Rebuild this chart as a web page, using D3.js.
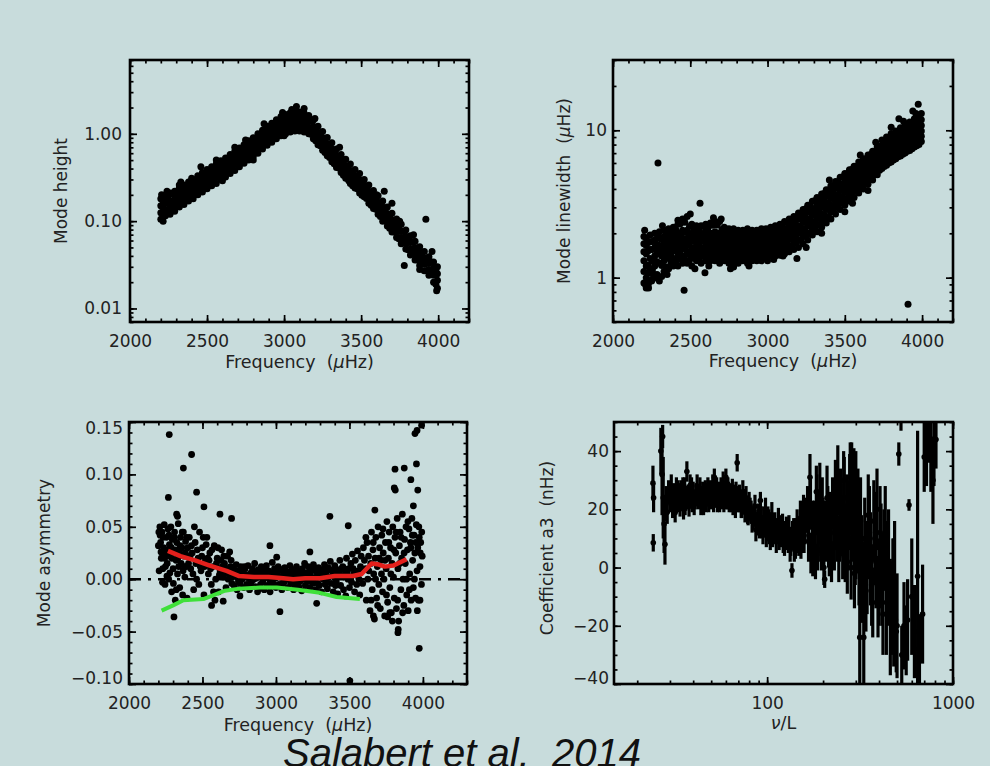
<!DOCTYPE html>
<html><head><meta charset="utf-8">
<script src="https://cdn.jsdelivr.net/npm/d3@7"></script>
<style>
html,body{margin:0;padding:0;background:#c8dcdc;}
svg{display:block;}
</style></head><body>
<svg id="c" width="990" height="766"></svg>
<script>
// ---------- DATA ----------
const freqTicks = [2000, 2500, 3000, 3500, 4000];
const heightTicks = [0.01, 0.1, 1];
const heightTickLabels = ["0.01", "0.10", "1.00"];
const widthTicks = [1, 10];
const widthTickLabels = ["1", "10"];
const asymTicks = [-0.10, -0.05, 0, 0.05, 0.10, 0.15];
const asymTickLabels = ["\u22120.10", "\u22120.05", "0.00", "0.05", "0.10", "0.15"];
const a3Ticks = [-40, -20, 0, 20, 40];
const a3TickLabels = ["\u221240", "\u221220", "0", "20", "40"];
const nuLTicks = [100, 1000];
const nuLTickLabels = ["100", "1000"];

// Mode height: [frequency, values...]
const heightCols = [
 [2200,.105,.125,.15,.18],[2230,.115,.135,.16,.19],[2260,.12,.145,.17,.21],[2290,.13,.16,.19,.22],
 [2320,.145,.17,.2,.24],[2350,.155,.185,.22,.26],[2380,.17,.2,.235,.28],[2410,.18,.215,.255,.3],
 [2440,.2,.235,.275,.33],[2470,.215,.255,.3,.36],[2500,.235,.28,.33,.39],[2530,.255,.3,.355,.42],
 [2560,.27,.325,.385,.45],[2590,.3,.35,.415,.49],[2620,.32,.38,.45,.53],[2650,.35,.41,.49,.58],
 [2680,.38,.45,.53,.63],[2710,.42,.49,.58,.69],[2740,.46,.54,.64,.75],[2770,.5,.59,.7,.83],
 [2800,.55,.65,.77,.9],[2830,.6,.72,.85,1.0],[2860,.67,.79,.93,1.1],[2890,.74,.87,1.03,1.22],
 [2920,.8,.94,1.12,1.32],[2950,.88,1.03,1.22,1.45],[2980,.95,1.12,1.32,1.58],[3010,1.0,1.18,1.4,1.66],
 [3040,1.05,1.23,1.46,1.74],[3070,1.08,1.27,1.5,1.8],[3100,1.08,1.27,1.5,1.78],[3130,1.05,1.24,1.46,1.72],
 [3160,1.0,1.16,1.38,1.62],[3190,.88,1.03,1.22,1.44],[3220,.75,.88,1.04,1.22],[3250,.65,.76,.9,1.06],
 [3280,.56,.65,.77,.91],[3310,.48,.56,.67,.79],[3340,.41,.48,.57,.67],[3370,.36,.42,.5,.58],
 [3400,.31,.37,.43,.51],[3430,.27,.32,.38,.45],[3460,.24,.28,.33,.39],[3490,.21,.25,.3,.35],
 [3520,.19,.22,.26,.3],[3550,.16,.19,.22,.26],[3580,.14,.16,.19,.225],[3610,.12,.14,.165,.195],
 [3640,.1,.12,.145,.17],[3670,.088,.103,.122,.145],[3700,.075,.088,.104,.123],[3730,.065,.076,.09,.106],
 [3760,.055,.065,.077,.092],[3790,.048,.056,.067,.079],[3820,.041,.048,.057,.068],[3850,.036,.042,.05,.059],
 [3880,.031,.037,.043,.051],[3910,.027,.032,.038,.045],[3940,.024,.028,.033,.039],[3970,.02,.024,.029,.034],
 [3995,.017,.021,.025,.03],
 [2215,.118,.142,.17],[2245,.128,.16,.182],[2275,.142,.168,.205],[2305,.15,.183,.22],[2335,.168,.192,.235],
 [2365,.178,.215,.248],[2395,.195,.222,.275],[2425,.205,.25,.292],[2455,.23,.265,.32],[2485,.24,.295,.34],
 [2515,.27,.305,.375],[2545,.285,.345,.395],[2575,.315,.36,.44],[2605,.335,.405,.465],[2635,.365,.43,.515],
 [2665,.395,.475,.555],[2695,.445,.515,.62],[2725,.475,.575,.66],[2755,.53,.615,.74],[2785,.565,.685,.79],
 [2815,.635,.745,.89],[2845,.685,.835,.96],[2875,.77,.895,1.07],[2905,.83,1.0,1.16],[2935,.91,1.06,1.28],
 [2965,.97,1.17,1.35],[2995,1.05,1.22,1.48],[3025,1.09,1.31,1.52],[3055,1.15,1.33,1.6],[3085,1.13,1.37,1.58],
 [3115,1.14,1.32,1.6],[3145,1.07,1.28,1.48],[3175,.99,1.15,1.39],[3205,.83,.99,1.14],[3235,.73,.83,.99],
 [3265,.61,.73,.83],[3295,.535,.61,.73],[3325,.455,.535,.615],[3355,.405,.455,.545],[3385,.335,.405,.465],
 [3415,.305,.345,.415],[3445,.255,.315,.355],[3475,.235,.265,.325],[3505,.198,.243,.275],[3535,.182,.205,.25],
 [3565,.152,.183,.205],[3595,.137,.152,.184],[3625,.113,.138,.155],[3655,.102,.113,.138],[3685,.083,.102,.113],
 [3715,.075,.084,.102],[3745,.063,.076,.084],[3775,.057,.063,.076],[3805,.047,.057,.064],[3835,.043,.048,.058],
 [3865,.036,.043,.048],[3895,.033,.036,.044],[3925,.027,.033,.037],[3955,.025,.027,.034],[3985,.019,.025,.027]
];
const heightOutliers = [[3080,2.05],[3130,1.95],[3920,0.105],[3780,0.031],[3650,0.22],[3700,0.16],
 [2460,0.42],[2330,0.28],[3990,0.016],[2215,0.1],[3050,1.9],[2205,.2],[2240,.22],[2320,.26],[2400,.31],
 [2560,.5],[2680,.7],[2750,.85],[2870,1.3],[2990,1.75],[3000,0.95],[3200,1.5],[3360,.7],[3420,.29],
 [3600,.2],[3750,.1],[3840,.07],[3880,.028],[3960,.045],[2600,.29],[2800,.5]];

// Mode linewidth: [frequency, values...]
const widthCols = [
 [2200,.92,1.1,1.3,1.5,1.7,1.9],[2215,.85,1.0,1.2,1.45,1.65,1.85],[2240,.95,1.15,1.35,1.55,1.75,1.95],
 [2270,1.0,1.2,1.4,1.6,1.8,2.0],[2300,.95,1.25,1.45,1.65,1.85,2.05],[2330,1.1,1.3,1.5,1.7,1.9,2.1],
 [2360,1.15,1.35,1.55,1.75,1.95,2.15],[2390,1.2,1.35,1.55,1.75,1.95,2.2],[2420,1.2,1.4,1.6,1.8,2.0,2.3],
 [2450,1.25,1.4,1.6,1.85,2.1,2.5],[2480,1.25,1.45,1.65,1.85,2.1,2.6],[2510,1.2,1.4,1.6,1.8,2.0,2.3],
 [2540,1.3,1.45,1.65,1.85,2.05,2.25],[2570,1.25,1.45,1.6,1.8,2.0,2.25],[2600,1.3,1.45,1.65,1.85,2.05,2.3],
 [2630,1.3,1.45,1.6,1.8,2.0,2.35],[2660,1.3,1.45,1.6,1.8,2.05,2.4],[2690,1.25,1.45,1.6,1.8,2.0,2.4],
 [2720,1.3,1.45,1.6,1.75,1.95,2.2],[2750,1.25,1.4,1.55,1.75,1.95,2.15],[2780,1.2,1.4,1.55,1.75,1.95,2.15],
 [2810,1.25,1.4,1.55,1.7,1.9,2.1],[2840,1.3,1.42,1.55,1.7,1.9,2.1],[2870,1.25,1.4,1.55,1.7,1.9,2.15],
 [2900,1.3,1.42,1.55,1.72,1.9,2.1],[2930,1.3,1.45,1.6,1.75,1.92,2.1],[2960,1.35,1.45,1.6,1.75,1.95,2.15],
 [2990,1.35,1.48,1.62,1.78,1.95,2.15],[3020,1.4,1.5,1.65,1.8,2.0,2.2],[3050,1.4,1.52,1.68,1.85,2.05,2.25],
 [3080,1.42,1.55,1.72,1.9,2.1,2.3],[3110,1.45,1.6,1.78,1.95,2.15,2.4],[3140,1.5,1.65,1.85,2.05,2.25,2.5],
 [3170,1.55,1.72,1.92,2.15,2.35,2.6],[3200,1.6,1.8,2.0,2.25,2.5,2.75],[3230,1.7,1.9,2.15,2.4,2.65,2.9],
 [3260,1.8,2.0,2.25,2.5,2.8,3.1],[3290,1.95,2.15,2.4,2.65,2.95,3.3],[3320,2.05,2.3,2.55,2.85,3.15,3.5],
 [3350,2.2,2.45,2.7,3.0,3.35,3.7],[3380,2.35,2.6,2.9,3.2,3.55,3.95],[3410,2.5,2.8,3.1,3.45,3.8,4.2],
 [3440,2.7,3.0,3.3,3.65,4.05,4.5],[3470,2.9,3.2,3.55,3.9,4.3,4.8],[3500,3.1,3.4,3.8,4.2,4.6,5.1],
 [3530,3.3,3.65,4.05,4.45,4.9,5.4],[3560,3.5,3.9,4.3,4.75,5.2,5.7],[3590,3.75,4.15,4.6,5.05,5.5,6.1],
 [3620,4.0,4.4,4.9,5.35,5.85,6.4],[3650,4.3,4.7,5.2,5.7,6.2,6.8],[3680,4.6,5.0,5.5,6.0,6.6,7.2],
 [3710,5.0,5.45,5.95,6.5,7.1,7.8],[3740,5.5,6.0,6.6,7.2,7.9,8.6],[3770,5.8,6.4,7.0,7.6,8.3,9.0],
 [3800,6.1,6.7,7.3,8.0,8.7,9.5],[3830,6.4,7.0,7.6,8.3,9.1,9.9],[3860,6.7,7.3,8.0,8.7,9.5,10.4],
 [3890,7.0,7.6,8.3,9.1,9.9,10.9],[3920,7.3,8.0,8.7,9.5,10.4,11.4],[3950,7.7,8.4,9.1,10,10.9,12],
 [3980,8.0,8.7,9.5,10.4,11.4,12.5],[3995,8.4,9.1,9.9,10.8,11.8,13],
 [2228,.9,1.07,1.22,1.52,1.73],[2255,.98,1.13,1.3,1.55,1.76],[2285,1.05,1.28,1.52,1.68,1.97],
 [2315,1.02,1.21,1.4,1.58,1.82],[2345,1.18,1.43,1.6,1.84,2.03],[2375,1.26,1.44,1.67,1.83,2.12],
 [2405,1.28,1.52,1.68,1.92,2.13],[2435,1.34,1.5,1.74,1.93,2.32],[2465,1.33,1.57,1.73,2.03,2.38],
 [2495,1.31,1.5,1.74,1.93,2.22],[2525,1.36,1.53,1.77,1.94,2.17],[2555,1.33,1.54,1.7,1.93,2.13],
 [2585,1.39,1.53,1.77,1.93,2.22],[2615,1.34,1.57,1.71,1.94,2.18],[2645,1.39,1.5,1.72,1.9,2.27],
 [2675,1.34,1.54,1.68,1.92,2.28],[2705,1.36,1.5,1.7,1.84,2.12],[2735,1.31,1.49,1.63,1.87,2.03],
 [2765,1.32,1.46,1.67,1.83,2.07],[2795,1.31,1.48,1.6,1.82,1.98],[2825,1.36,1.47,1.64,1.78,2.02],
 [2855,1.31,1.48,1.6,1.82,2.0],[2885,1.36,1.47,1.65,1.78,2.02],[2915,1.36,1.53,1.65,1.85,1.98],
 [2945,1.41,1.52,1.7,1.83,2.07],[2975,1.41,1.56,1.68,1.89,2.03],[3005,1.46,1.56,1.74,1.88,2.12],
 [3035,1.45,1.61,1.74,1.97,2.13],[3065,1.49,1.61,1.82,1.96,2.2],[3095,1.51,1.69,1.83,2.05,2.23],
 [3125,1.58,1.7,1.94,2.1,2.37],[3155,1.61,1.82,1.98,2.22,2.4],[3185,1.71,1.86,2.1,2.28,2.57],
 [3215,1.79,2.02,2.2,2.5,2.73],[3245,1.91,2.08,2.37,2.6,2.92],[3275,1.99,2.24,2.46,2.8,3.08],
 [3305,2.16,2.36,2.67,2.93,3.32],[3335,2.27,2.54,2.78,3.14,3.46],[3365,2.43,2.66,3.0,3.3,3.72],
 [3395,2.59,2.9,3.18,3.57,3.93],[3425,2.81,3.08,3.44,3.78,4.22],[3455,2.99,3.32,3.63,4.07,4.48],
 [3485,3.21,3.5,3.92,4.28,4.82],[3515,3.39,3.77,4.13,4.62,5.08],[3545,3.63,3.98,4.44,4.88,5.42],
 [3575,3.84,4.27,4.68,5.22,5.68],[3605,4.11,4.5,5.02,5.48,6.07],[3635,4.37,4.84,5.28,5.87,6.38],
 [3665,4.69,5.1,5.67,6.18,6.82],[3695,4.99,5.5,5.98,6.62,7.23],[3725,5.36,5.83,6.42,6.98,7.72],
 [3755,5.69,6.22,6.78,7.42,8.08],[3785,6.01,6.53,7.17,7.78,8.52],[3815,6.29,6.87,7.48,8.22,8.88],
 [3845,6.61,7.18,7.87,8.53,9.32],[3875,6.89,7.52,8.18,8.92,9.78],[3905,7.21,7.83,8.57,9.28,10.2],
 [3935,7.49,8.22,8.88,9.72,10.6],[3965,7.86,8.53,9.32,10.2,11.2]
];
const widthOutliers = [[2291,6.0],[2563,3.2],[2460,0.82],[3909,0.66],[2595,1.08],[2230,0.85],[2250,0.95],
 [2275,1.0],[2620,1.2],[2780,1.18],[2960,1.3],[3040,1.33],[3190,1.35],[3960,13],[3975,15],[3850,12],[2210,0.9],
 [2205,2.1],[2235,0.95],[2265,1.05],[2320,2.25],[2350,1.05],[2420,2.45],[2500,2.7],[2650,2.55],[2700,2.5],
 [2530,1.15],[2760,1.15],[2880,1.2],[3000,1.3],[3100,1.4],[3250,1.6],[3350,2.0],[3400,4.6],[3500,2.8],
 [3600,6.8],[3700,8.3],[3800,10.5],[3880,11.5],[3940,13.5],[3550,3.2],[3650,3.9]];

// Mode asymmetry: [frequency, asymmetry]
const asymPoints = [
 [2200,0.032],[2205,0.008],[2210,0.05],[2212,0.042],[2215,0.035],[2220,0.02],[2225,0.045],[2228,-0.003],[2230,0.01],
 [2235,0.03],[2240,0.052],[2245,-0.005],[2248,0.012],[2250,0.025],[2255,0.04],[2260,0.015],[2262,0.028],[2265,0.048],
 [2270,0.0],[2275,0.033],[2278,0.006],[2280,0.022],[2285,0.05],[2290,-0.012],[2292,0.02],[2295,0.038],[2300,0.01],
 [2305,0.027],[2308,0.04],[2310,0.045],[2315,-0.02],[2320,0.018],[2322,-0.01],[2325,0.035],[2330,0.005],[2335,0.053],
 [2338,0.012],[2340,0.028],[2345,-0.008],[2350,0.04],[2352,0.024],[2355,0.015],[2360,0.03],[2365,-0.015],[2368,0.008],
 [2370,0.045],[2375,0.022],[2380,0.002],[2384,0.025],[2385,0.036],[2390,0.012],[2395,-0.018],[2400,0.03],
 [2410,0.04],[2415,0.022],[2420,0.01],[2430,0.025],[2435,0.005],[2440,-0.01],[2445,0.05],[2450,0.035],[2455,0.015],
 [2460,0.0],[2470,0.02],[2475,-0.005],[2480,0.045],[2490,0.008],[2495,0.022],[2500,0.03],[2510,-0.015],[2515,0.012],
 [2520,0.018],[2525,0.033],[2530,0.04],[2535,0.02],[2540,0.005],[2550,0.025],[2555,0.01],[2560,-0.005],[2570,0.012],
 [2575,-0.012],[2580,0.032],[2585,-0.02],[2590,0.0],[2595,0.015],[2600,0.02],[2605,0.03],[2610,-0.012],[2615,0.004],
 [2620,0.008],[2630,0.028],[2635,0.012],[2640,0.002],[2650,0.015],[2655,0.006],[2660,-0.008],[2670,0.022],[2675,0.0],
 [2680,0.005],[2690,0.012],[2695,0.018],[2700,-0.004],
 [2710,0.01],[2715,-0.006],[2720,0.004],[2730,0.014],[2735,-0.01],[2740,0.002],[2750,0.008],[2755,-0.004],[2760,0.012],
 [2770,0.0],[2775,0.006],[2780,-0.008],[2790,0.01],[2795,0.003],[2800,-0.005],[2810,0.013],[2815,0.001],[2820,-0.01],
 [2830,0.006],[2835,-0.002],[2840,0.01],[2850,0.0],[2855,0.015],[2860,-0.007],[2870,0.005],[2875,-0.012],[2880,0.009],
 [2890,0.002],[2895,-0.005],[2900,0.012],[2910,-0.002],[2915,0.007],[2920,-0.01],[2930,0.004],[2935,0.013],[2940,-0.006],
 [2950,0.008],[2955,0.0],[2960,-0.012],[2970,0.006],[2975,0.016],[2980,-0.004],[2990,0.01],[2995,0.001],[3000,-0.008],
 [3010,0.005],[3015,0.012],[3020,-0.005],[3030,0.002],[3035,0.009],[3040,-0.01],[3050,0.004],[3055,-0.003],[3060,0.011],
 [3070,0.0],[3075,0.007],[3080,-0.008],[3090,0.005],[3095,0.013],[3100,-0.004],[3110,0.002],[3115,0.009],[3120,-0.01],
 [3130,0.006],[3135,-0.002],[3140,0.012],[3150,0.001],[3155,-0.007],[3160,0.008],[3170,0.003],[3175,-0.011],[3180,0.01],
 [3190,0.0],[3195,0.015],[3200,-0.006],[3210,0.006],[3215,-0.002],[3220,0.012],[3230,-0.008],[3235,0.004],[3240,0.009],
 [3250,-0.004],[3255,0.014],[3260,0.001],[3270,-0.01],[3275,0.007],[3280,0.003],[3290,0.011],[3295,-0.006],[3300,0.005],
 [3310,-0.012],[3315,0.009],[3320,0.0],[3330,0.014],[3335,-0.005],[3340,0.006],[3350,-0.009],[3355,0.011],[3360,0.002],
 [3370,0.017],[3375,-0.004],[3380,0.008],[3390,-0.012],[3395,0.004],[3400,0.013],[3410,-0.002],[3415,0.009],[3420,-0.014],
 [3430,0.006],[3435,0.018],[3440,-0.006],[3450,0.003],[3455,0.012],[3460,-0.01],[3470,0.008],[3475,-0.016],[3480,0.02],
 [3490,0.0],[3495,0.01],[3500,-0.008],[3510,0.015],[3515,-0.003],[3520,0.024],[3530,0.005],[3535,-0.012],[3540,0.018],
 [3550,-0.005],[3555,0.027],[3560,0.008],[3570,-0.015],[3575,0.012],[3580,0.022],[3590,-0.004],[3595,0.03],
 [3610,0.01],[3615,-0.02],[3620,0.035],[3625,0.0],[3630,0.022],[3640,-0.03],[3645,0.015],[3650,0.045],[3655,-0.01],
 [3660,0.028],[3665,0.005],[3670,-0.038],[3675,0.02],[3680,0.04],[3685,-0.018],[3690,0.012],[3695,0.05],[3700,-0.005],
 [3705,0.03],[3710,-0.028],[3715,0.018],[3720,0.042],[3725,-0.012],[3730,0.025],[3735,0.0],[3740,-0.035],[3745,0.035],
 [3750,0.01],[3755,0.055],[3760,-0.022],[3765,0.02],[3770,0.045],[3775,-0.008],[3780,0.03],[3785,-0.032],[3790,0.015],
 [3795,0.05],[3800,0.002],[3805,-0.018],[3810,0.04],[3815,0.025],[3820,-0.028],[3825,0.058],[3830,0.01],[3835,-0.04],
 [3840,0.032],[3845,0.045],[3850,-0.01],[3855,0.02],[3860,0.062],[3865,0.0],[3870,-0.025],[3875,0.038],[3880,0.015],
 [3885,0.05],[3890,-0.015],[3895,0.028],[3900,-0.03],[3905,0.048],[3910,0.005],[3915,0.035],[3920,-0.02],[3925,0.058],
 [3930,0.018],[3935,-0.008],[3940,0.042],[3945,0.025],[3950,-0.018],[3955,0.052],[3960,0.008],[3965,0.03],[3970,-0.02],
 [3975,0.04],[3980,0.012],[3985,0.035],[3990,-0.005],[3995,0.022],
 [2274,0.138],[2426,0.119],[2370,0.106],[2268,0.078],[2460,0.083],[2510,0.069],[2619,0.062],[2698,0.058],[2324,0.062],
 [2330,0.06],[3367,0.06],[3492,0.051],[3673,0.066],[3805,0.087],[3812,0.085],[3810,0.105],[3873,0.106],[3946,0.139],
 [3960,0.142],[3991,0.147],[3956,0.11],[3918,0.095],[3965,0.085],[3935,0.07],[3027,-0.031],[2306,-0.036],[3832,-0.048],
 [3830,-0.051],[3975,-0.066],[3503,-0.097],[2641,-0.021],[2562,-0.025],[2755,-0.016],[3231,0.026],[2959,0.032],
 [3005,0.021],[3277,-0.023],[3663,-0.035],[3760,-0.036],[3775,-0.032],[3980,-0.02],
 [2705,0.002],[2725,0.008],[2745,-0.002],[2765,0.005],[2785,0.012],[2805,0.004],[2825,-0.004],[2845,0.007],[2865,0.001],
 [2885,-0.009],[2905,0.005],[2925,0.01],[2945,0.002],[2965,-0.003],[2985,0.006],[3005,0.003],[3025,0.009],[3045,-0.004],
 [3065,0.006],[3085,0.002],[3105,0.008],[3125,-0.005],[3145,0.004],[3165,-0.002],[3185,0.006],[3205,0.002],[3225,0.007],
 [3245,-0.001],[3265,0.009],[3285,-0.004],[3305,0.002],[3325,0.007],[3345,0.0],[3365,0.009],[3385,0.003],[3405,-0.006],
 [3425,0.004],[3445,0.01],[3465,0.002],[3485,0.006],[3505,0.001],[3525,0.01],[3545,0.004],[3565,0.0],[3585,0.008],
 [2203,0.045],[2218,0.026],[2232,0.04],[2243,0.02],[2258,0.003],[2272,0.042],[2288,0.03],[2302,-0.004],[2318,0.028],
 [2332,0.02],[2348,0.032],[2362,0.045],[2378,0.012],[2392,0.04],[2405,0.015],[2425,0.032],[2465,0.028],[2485,0.012],
 [2505,0.04],[2545,0.018],[2565,0.028],[2625,0.018],[2645,0.022],[2665,0.01],[2685,0.026],
 [3602,0.018],[3612,0.04],[3632,0.008],[3648,-0.02],[3662,0.035],[3678,0.0],[3692,-0.025],[3702,0.02],[3718,0.005],
 [3728,0.048],[3742,0.018],[3752,-0.015],[3768,0.035],[3782,0.005],[3792,-0.04],[3802,0.028],[3818,0.045],[3828,-0.02],
 [3842,0.015],[3852,0.04],[3862,-0.032],[3872,0.025],[3888,0.0],[3898,0.055],[3908,-0.01],[3918,0.03],[3928,0.042],
 [3942,0.0],[3952,0.035],[3962,-0.03],[3972,0.05],[3982,0.025],[3992,0.045]
];
const asymRed = [[2265,0.027],[2350,0.022],[2450,0.018],[2550,0.013],[2664,0.008],[2750,0.003],[2850,0.002],
 [2950,0.002],[3050,0.001],[3117,0.0],[3200,0.001],[3300,0.001],[3400,0.003],[3524,0.003],[3583,0.005],
 [3651,0.015],[3700,0.014],[3741,0.012],[3800,0.013],[3889,0.019]];
const asymGreen = [[2222,-0.030],[2300,-0.025],[2370,-0.020],[2506,-0.019],[2580,-0.015],[2653,-0.011],
 [2750,-0.009],[2891,-0.008],[3005,-0.008],[3150,-0.010],[3299,-0.013],[3413,-0.017],[3571,-0.019]];

// Coefficient a3: [nu/L, a3 (nHz), error]
const a3Points = [
 [24.3,29,6],[24.5,24,5],[24.4,8.5,3],[26.8,40,8],[27.2,32,14],[27.6,24,14],[27.9,15,10],[28.2,8,7],[28.6,22,6],[27.4,45,4],
 [29,19,4],[29.5,26,4],[30,23,4],[30.5,28,4],[31,21,4],[31.5,25,4],[32,19,3.5],[32.5,27,4],[33,23,4],[33.5,25,4],
 [34,21,3.5],[34.5,26,4],[35,24,3.5],[35.5,20,3.5],[36,27,4],[36.5,23,3.5],[37,33,3.5],[37.5,25,3.5],[38,21,3.5],[38.5,28,4],
 [39,24,3.5],[39.5,22,3],[40,26,3.5],[41,23,3],[42,28,4],[43,24,3.5],[44,21,3],[45,26,3.5],[46,24,3.5],[47,22,3],
 [48,27,4],[49,25,3.5],[50,23,3],[51,28,4],[52,31,3],[53,24,3.5],[54,22,3],[55,26,3.5],[56,24,3],[57,23,3],
 [58,29,4],[59,25,3.5],[60,31,3],[61,23,3],[62,26,3.5],[63,24,3.5],[64,22,3],[65,27,3.5],[66,25,3.5],[67,23,3],
 [68,26,3.5],[69,36,3],[70,22,3],[71,25,3.5],[72,23,3.5],[73,20,3],[74,26,4],[75,22,3.5],[76,19,3.5],[77,24,4],
 [78,21,3.5],[79,18,3.5],[80,22,4],[82,19,4],[84,17,4],[86,21,4],[88,15,4],[90,18,4],[92,23,3],[94,14,4],
 [96,17,4],[98,20,4],[100,13,4],[102,16,4],[104,10,4],[106,18,4.5],[108,12,4],[110,15,4],[112,9,4],[115,16,4.5],
 [118,11,4],[121,14,4.5],[124,8,4],[127,13,4.5],[130,10,5],[133,6,4],[136,-1,2.5],[139,12,5],[142,8,5],[145,15,5],
 [148,9,5],[151,17,6],[154,11,6],[157,19,6],[160,14,6],
 [30.2,25,4],[31.2,23,4],[32.2,22,4],[33.2,26,4],[34.2,24,4],[35.2,27,4],[36.2,22,4],[37.2,24,4],[38.2,25,4],[39.2,27,4],
 [40.5,22,4],[41.5,25,4],[42.5,24,4],[43.5,27,4],[44.5,24,4],[45.5,22,4],[46.5,26,4],[47.5,25,4],[48.5,23,4],[49.5,26,4],
 [50.5,25,4],[51.5,23,4],[52.5,25,4],[53.5,27,4],[54.5,24,4],[55.5,23,4],[56.5,27,4],[57.5,25,4],[58.5,23,4],[59.5,26,4],
 [60.5,24,4],[61.5,27,4],[62.5,23,4],[63.5,25,4],[64.5,24,4],[65.5,22,4],[66.5,24,4],[67.5,21,4],[68.5,24,4],[70.5,23,4],
 [72.5,21,4],[74.5,23,4],[76.5,21,4],[78.5,19,4],[81,20,4],[83,16,4],[85,18,4],[87,13,4],[89,16,4],[91,14,4],
 [93,17,4],[95,12,4],[97,15,4],[99,11,4],[101,17,4],[103,12,4],[105,15,4],[107,11,4],[109,14,4],[111,13,4],
 [113,12,4],[116,10,4],[119,14,4],[122,9,4],[125,12,4],[128,10,4],[131,13,5],[134,9,5],[137,11,5],[140,7,5],
 [143,12,5],[146,10,5],[149,12,5],[152,9,6],[155,14,6],[158,11,6],
 [165,20,8],[170,31,8],[172,5,7],[175,14,9],[178,8,8],[182,2,6],[185,22,10],[188,12,8],[192,26,10],[196,6,7],
 [200,15,9],[204,-4,3],[208,10,8],[212,18,10],[216,3,6],[220,12,8],[225,22,9],[230,8,9],[235,14,8],[240,30,12],
 [245,10,8],[250,19,10],[255,5,9],[260,24,14],[265,12,10],[270,2,11],[275,18,12],[280,31,12],[285,23,20],[290,15,11],
 [295,-2,12],[300,18,22],[308,20,14],[315,-24,20],[322,6,12],[331,-24,22],[340,-8,14],[350,18,14],[360,3,16],[370,-12,12],
 [380,10,16],[390,20,14],[400,-5,15],[410,4,18],[420,-16,14],[432,12,16],[445,-2,18],[460,-17,20],[475,-8,18],[480,-12,22],
 [490,-18,15],[500,-20,18],[511,39,4],[525,52,5],[545,-20,15],[560,-25,12],[580,21.5,2],[600,-10,20],[645,-3,50],
 [686,-16,17],[700,38,12],[720,40,12],[760,38,12],[790,42,14],[810,44,10],
 [162,18,6],[167,9,7],[171,22,9],[176,3,6],[180,15,8],[184,26,9],[187,6,7],[190,17,9],[194,10,8],[198,21,10],
 [202,0,6],[206,14,9],[210,24,11],[214,8,8],[218,16,10],[222,2,7],[228,18,11],[233,27,10],[238,12,10],[243,4,9],
 [248,22,12],[253,14,10],[258,30,10],[263,6,11],[268,20,12],[273,9,10],[278,25,14],[283,0,11],[288,14,12],[293,28,13],
 [298,6,12],[305,12,14],[312,3,16],[318,16,15],[326,-5,14],[335,10,14],[345,0,16],[355,12,16],[365,-6,14],[375,16,14],
 [385,2,16],[395,-10,14],[405,12,16],[415,-4,16],[425,6,14],[438,-12,18],[450,2,18],[468,-14,16],[485,-4,20],[495,-22,14],
 [530,-30,10],[570,-18,14],[620,-22,16],[660,-28,12],[740,46,10],[780,30,15]
];

// ---------- DRAW ----------
const svg = d3.select("#c");
svg.append("rect").attr("width", 990).attr("height", 766).attr("fill", "#c8dcdc");

const FONT = "DejaVu Sans, sans-serif";
const TXT = "#222";

function axesFrame(g, x, y, box, o) {
  const {L, T, R, B} = box;
  const tk = (axisFn, scale, vals, size, tr) => {
    const a = g.append("g").attr("transform", tr)
      .call(axisFn(scale).tickValues(vals).tickSizeInner(-size).tickSizeOuter(0).tickFormat(""));
    a.select(".domain").remove();
    a.selectAll("line").attr("stroke", "#000").attr("stroke-width", 1.7);
  };
  tk(d3.axisBottom, x, o.xMinor, 3.5, `translate(0,${B})`);
  tk(d3.axisTop, x, o.xMinor, 3.5, `translate(0,${T})`);
  tk(d3.axisBottom, x, o.xMajor, 7, `translate(0,${B})`);
  tk(d3.axisTop, x, o.xMajor, 7, `translate(0,${T})`);
  tk(d3.axisLeft, y, o.yMinor, 3.5, `translate(${L},0)`);
  tk(d3.axisRight, y, o.yMinor, 3.5, `translate(${R},0)`);
  tk(d3.axisLeft, y, o.yMajor, 7, `translate(${L},0)`);
  tk(d3.axisRight, y, o.yMajor, 7, `translate(${R},0)`);

  const xl = g.append("g").attr("transform", `translate(0,${B})`)
    .call(d3.axisBottom(x).tickValues(o.xMajor).tickFormat((d, i) => o.xLabels[i]).tickSize(0).tickPadding(13));
  xl.select(".domain").remove();
  xl.attr("font-family", FONT).attr("font-size", 17);
  xl.selectAll("text").attr("fill", TXT);

  const yl = g.append("g").attr("transform", `translate(${L},0)`)
    .call(d3.axisLeft(y).tickValues(o.yMajor).tickFormat((d, i) => o.yLabels[i]).tickSize(0).tickPadding(o.yPad || 7));
  yl.select(".domain").remove();
  yl.attr("font-family", FONT).attr("font-size", 17);
  yl.selectAll("text").attr("fill", TXT)
    .attr("transform", d => {
      const py = y(d);
      if (Math.abs(py - T) < 3) return "translate(0,6)";
      if (Math.abs(py - B) < 3) return "translate(0,-6)";
      return null;
    });

  g.append("rect").attr("x", L).attr("y", T).attr("width", R - L).attr("height", B - T)
    .attr("fill", "none").attr("stroke", "#000").attr("stroke-width", 2.6);

  g.append("text").attr("transform", `translate(${o.yTitleX},${(T + B) / 2 + (o.yTitleDy || 0)}) rotate(-90)`)
    .attr("text-anchor", "middle").attr("font-family", FONT).attr("font-size", 17).attr("fill", TXT)
    .style("white-space", "pre").html(o.yTitle);
  g.append("text").attr("x", (L + R) / 2).attr("y", o.xTitleY)
    .attr("text-anchor", "middle").attr("font-family", FONT).attr("font-size", 17.5).attr("fill", TXT)
    .style("white-space", "pre").html(o.xTitle);
}

function clip(id, b) {
  svg.append("clipPath").attr("id", id).append("rect")
    .attr("x", b.L).attr("y", b.T).attr("width", b.R - b.L).attr("height", b.B - b.T);
}

const linMinor = (a, b, s) => d3.range(Math.round(a / s), Math.round(b / s) + 1).map(k => +(k * s).toFixed(6));
const MU = "<tspan font-style='italic'>\u03bc</tspan>";

// Panel 1: Mode height
{
  const b = {L: 130, T: 60, R: 469, B: 322};
  const x = d3.scaleLinear().domain([2000, 4200]).range([b.L, b.R]);
  const y = d3.scaleLog().domain([0.007, 7]).range([b.B, b.T]);
  clip("c1", b);
  const g = svg.append("g");
  const pts = [];
  heightCols.forEach(c => c.slice(1).forEach(v => pts.push([c[0], v])));
  heightOutliers.forEach(p => pts.push(p));
  g.append("g").attr("clip-path", "url(#c1)").selectAll("circle").data(pts).join("circle")
    .attr("cx", d => x(d[0])).attr("cy", d => y(d[1])).attr("r", 3.5).attr("fill", "#000");
  axesFrame(g, x, y, b, {
    xMajor: freqTicks, xLabels: freqTicks.map(String), xMinor: linMinor(2000, 4200, 100),
    yMajor: heightTicks, yLabels: heightTickLabels, yMinor: y.ticks(), yPad: 8,
    yTitle: "Mode height", yTitleX: 67, xTitle: "Frequency  (" + MU + "Hz)", xTitleY: 368
  });
}

// Panel 2: Mode linewidth
{
  const b = {L: 613, T: 60, R: 953, B: 322};
  const x = d3.scaleLinear().domain([2000, 4200]).range([b.L, b.R]);
  const y = d3.scaleLog().domain([0.5, 30]).range([b.B, b.T]);
  clip("c2", b);
  const g = svg.append("g");
  const pts = [];
  widthCols.forEach(c => c.slice(1).forEach(v => pts.push([c[0], v])));
  widthOutliers.forEach(p => pts.push(p));
  g.append("g").attr("clip-path", "url(#c2)").selectAll("circle").data(pts).join("circle")
    .attr("cx", d => x(d[0])).attr("cy", d => y(d[1])).attr("r", 3.5).attr("fill", "#000");
  axesFrame(g, x, y, b, {
    xMajor: freqTicks, xLabels: freqTicks.map(String), xMinor: linMinor(2000, 4200, 100),
    yMajor: widthTicks, yLabels: widthTickLabels, yMinor: y.ticks(), yPad: 6,
    yTitle: "Mode linewidth  (" + MU + "Hz)", yTitleX: 570, xTitle: "Frequency  (" + MU + "Hz)", xTitleY: 367
  });
}

// Panel 3: Mode asymmetry
{
  const b = {L: 129, T: 422, R: 467, B: 684};
  const x = d3.scaleLinear().domain([2000, 4300]).range([b.L, b.R]);
  const y = d3.scaleLinear().domain([-0.10, 0.15]).range([b.B, b.T]);
  clip("c3", b);
  const g = svg.append("g");
  const inner = g.append("g").attr("clip-path", "url(#c3)");
  inner.append("line").attr("x1", b.L).attr("x2", b.R).attr("y1", y(0)).attr("y2", y(0))
    .attr("stroke", "#000").attr("stroke-width", 2.5).attr("stroke-dasharray", "12,7,3,7");
  inner.selectAll("circle").data(asymPoints).join("circle")
    .attr("cx", d => x(d[0])).attr("cy", d => y(d[1])).attr("r", 3.4).attr("fill", "#000");
  const line = d3.line().x(d => x(d[0])).y(d => y(d[1]));
  inner.append("path").datum(asymGreen).attr("d", line).attr("fill", "none")
    .attr("stroke", "#3fe03a").attr("stroke-width", 4).attr("stroke-linejoin", "round");
  inner.append("path").datum(asymRed).attr("d", line).attr("fill", "none")
    .attr("stroke", "#e3201c").attr("stroke-width", 4.5).attr("stroke-linejoin", "round");
  axesFrame(g, x, y, b, {
    xMajor: freqTicks, xLabels: freqTicks.map(String), xMinor: linMinor(2000, 4300, 100),
    yMajor: asymTicks, yLabels: asymTickLabels, yMinor: linMinor(-0.10, 0.15, 0.01), yPad: 6,
    yTitle: "Mode asymmetry", yTitleX: 50, xTitle: "Frequency  (" + MU + "Hz)", xTitleY: 731
  });
}

// Panel 4: Coefficient a3
{
  const b = {L: 614, T: 422, R: 953, B: 684};
  const x = d3.scaleLog().domain([15, 1000]).range([b.L, b.R]);
  const y = d3.scaleLinear().domain([-40, 50]).range([b.B, b.T]);
  clip("c4", b);
  const g = svg.append("g");
  const inner = g.append("g").attr("clip-path", "url(#c4)");
  inner.selectAll("line").data(a3Points).join("line")
    .attr("x1", d => x(d[0])).attr("x2", d => x(d[0]))
    .attr("y1", d => y(d[1] - d[2])).attr("y2", d => y(d[1] + d[2]))
    .attr("stroke", "#000").attr("stroke-width", 3.2);
  inner.selectAll("circle").data(a3Points).join("circle")
    .attr("cx", d => x(d[0])).attr("cy", d => y(d[1])).attr("r", 2.8).attr("fill", "#000");
  axesFrame(g, x, y, b, {
    xMajor: nuLTicks, xLabels: nuLTickLabels, xMinor: x.ticks(),
    yMajor: a3Ticks, yLabels: a3TickLabels, yMinor: linMinor(-40, 50, 5), yPad: 5,
    yTitle: "Coefficient a3  (nHz)", yTitleX: 553, yTitleDy: -5,
    xTitle: "<tspan font-style='italic'>\u03bd</tspan>/L", xTitleY: 729
  });
}

// Caption
svg.append("text").attr("x", 283).attr("y", 767)
  .attr("font-family", "Liberation Sans, Arial, sans-serif").attr("font-style", "italic")
  .attr("font-size", 40).attr("fill", "#111").style("white-space", "pre")
  .text("Salabert et al.  2014");
</script>
</body></html>
